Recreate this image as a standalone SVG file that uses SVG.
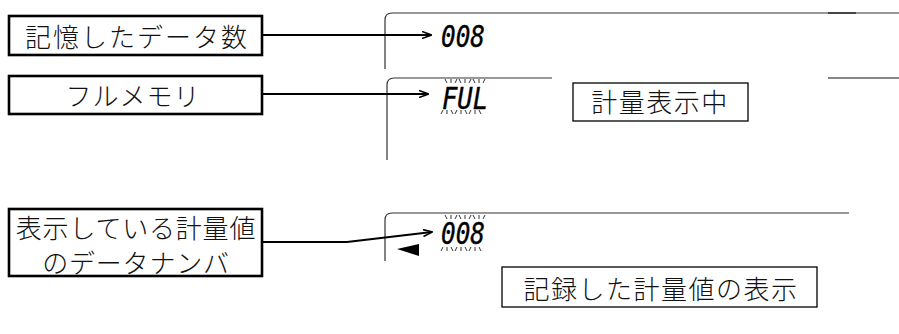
<svg xmlns="http://www.w3.org/2000/svg" width="899" height="334" viewBox="0 0 899 334">
<style>
.lbl{fill:#fff;stroke:#000;stroke-width:2.6}
.box{fill:#fff;stroke:#000;stroke-width:1.3}
.jp{font-family:"Noto Sans CJK JP","Noto Sans CJK SC",sans-serif;font-size:26px;font-weight:300;fill:#111;text-anchor:middle;dominant-baseline:central}
.conn{fill:none;stroke:#000;stroke-width:2}
.frame{fill:none;stroke:#333;stroke-width:1.2}
.lcd{font-family:"DejaVu Sans Mono",monospace;font-weight:normal;font-style:italic;font-size:30px;fill:#000;stroke:#000;stroke-width:0.4}
.spark{stroke:#000;stroke-width:0.8;fill:none}
</style>
<defs>
<marker id="ah" viewBox="0 0 10 8" refX="9" refY="4" markerWidth="10" markerHeight="8" markerUnits="userSpaceOnUse" orient="auto">
<path d="M0,0.5 L9.5,4 L0,7.5" fill="none" stroke="#000" stroke-width="1.6"/>
</marker>
</defs>
<g id="displays">
<path class="frame" d="M385,69 V20 Q385,13 392,13 H899" stroke="#777"/>
<line x1="828" y1="13" x2="856" y2="13" stroke="#222" stroke-width="1.4"/>
<path class="frame" d="M387,160 V85 Q387,78 394,78 H552" stroke="#111"/>
<line x1="828" y1="78" x2="899" y2="78" stroke="#111" stroke-width="1.2"/>
<path class="frame" d="M385,261 V220 Q385,213 392,213 H849" stroke="#777"/>
</g>
<g id="lcd1">
<text class="lcd" x="441" y="47" textLength="44" lengthAdjust="spacingAndGlyphs">008</text>
</g>
<g id="lcd2">
<text class="lcd" x="442" y="109" textLength="46" lengthAdjust="spacingAndGlyphs">FUL</text>
<g class="spark">
<path d="M445,79 l2,4 M451,79 l0,4 M457,79 l-2,4 M459,79 l2,4 M465,79 l0,4 M471,79 l-2,4 M473,79 l2,4 M479,79 l0,4 M485,79 l-2,4"/>
<path d="M441,114 l2,-4 M447,114 l0,-4 M453,114 l-2,-4 M455,114 l2,-4 M461,114 l0,-4 M467,114 l-2,-4 M469,114 l2,-4 M475,114 l0,-4 M481,114 l-2,-4"/>
</g>
</g>
<g id="lcd3">
<text class="lcd" x="441" y="244" textLength="44" lengthAdjust="spacingAndGlyphs">008</text>
<g class="spark">
<path d="M445,215 l2,4 M451,215 l0,4 M457,215 l-2,4 M459,215 l2,4 M465,215 l0,4 M471,215 l-2,4 M473,215 l2,4 M479,215 l0,4 M485,215 l-2,4"/>
<path d="M441,251 l2,-4 M447,251 l0,-4 M453,251 l-2,-4 M455,251 l2,-4 M461,251 l0,-4 M467,251 l-2,-4 M469,251 l2,-4 M475,251 l0,-4 M481,251 l-2,-4"/>
</g>
<path d="M397,249 L419,244 L419,256 Z" fill="#000"/>
</g>
<g id="n1">
<rect class="lbl" x="9" y="16" width="253" height="39"/>
<text class="jp" x="137" y="35" letter-spacing="2">記憶したデータ数</text>
</g>
<g id="n2">
<rect class="lbl" x="9" y="76" width="253" height="38"/>
<text class="jp" x="133" y="94" letter-spacing="1">フルメモリ</text>
</g>
<g id="n3">
<rect class="lbl" x="9" y="209" width="253" height="67"/>
<text class="jp" letter-spacing="0.8"><tspan x="136" y="226">表示している計量値</tspan><tspan x="136" y="261">のデータナンバ</tspan></text>
</g>
<g id="n4">
<rect class="box" x="573" y="83" width="175" height="38"/>
<text class="jp" x="660" y="100" letter-spacing="1.5">計量表示中</text>
</g>
<g id="n5">
<rect class="box" x="502" y="267" width="315" height="40"/>
<text class="jp" x="661" y="287" letter-spacing="1.5">記録した計量値の表示</text>
</g>
<g id="connectors">
<path class="conn" d="M262,35 H431" marker-end="url(#ah)"/>
<path class="conn" d="M262,94 H428" marker-end="url(#ah)"/>
<path class="conn" d="M262,242 H347 L432,232" marker-end="url(#ah)"/>
</g>
</svg>
